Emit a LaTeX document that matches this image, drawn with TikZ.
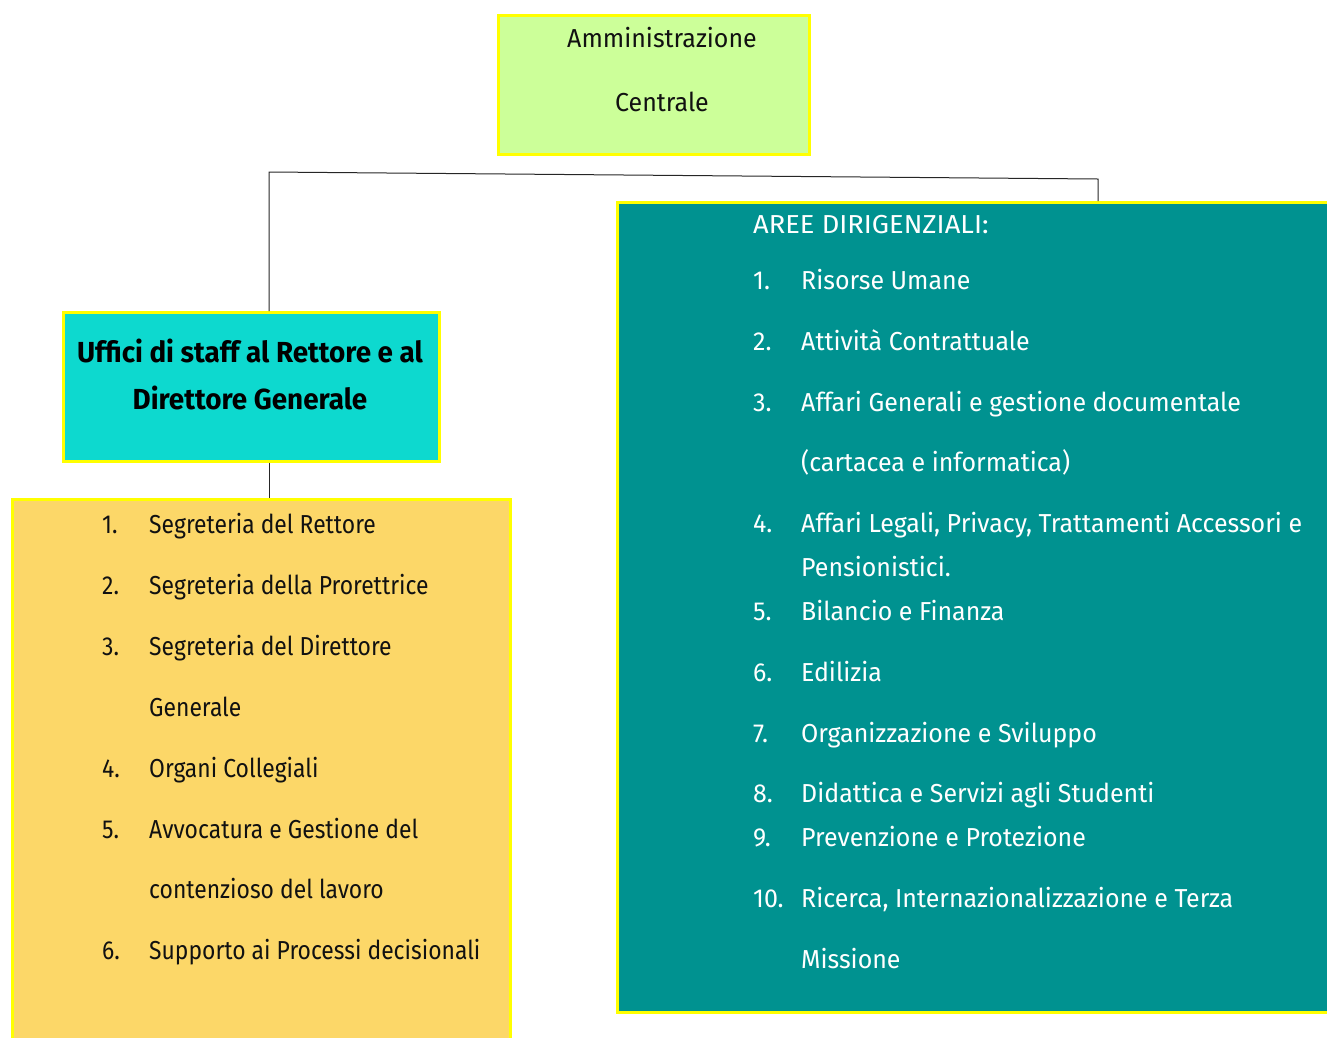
\documentclass[tikz,border=0pt]{standalone}
\usepackage{fontspec}
\setmainfont{Fira Sans}[FakeStretch=0.96]
\newfontfamily\yfont{Fira Sans}[FakeStretch=0.88]
\newfontfamily\hfont{Fira Sans}[FakeStretch=1.05]
\definecolor{topfill}{HTML}{CCFF99}
\definecolor{staffill}{HTML}{0DD9CF}
\definecolor{yelfill}{HTML}{FCD768}
\definecolor{tealfill}{HTML}{009290}
\definecolor{bord}{HTML}{FFFF00}
\definecolor{txt}{HTML}{111111}
\begin{document}
\begin{tikzpicture}[x=1pt,y=-1pt,
  box/.style={draw=bord,line width=2.5pt,anchor=north west,inner sep=0pt},
  conn/.style={draw=black!85,line width=1pt},
  ttext/.style={font=\fontsize{26}{30}\selectfont,text=txt,inner sep=0pt},
  btext/.style={font=\fontsize{29}{30}\selectfont\bfseries,text=black,inner sep=0pt},
  ltext/.style={font=\fontsize{26}{30}\selectfont,inner sep=0pt,anchor=base west},
  ytext/.style={font=\fontsize{26}{30}\selectfont\yfont,inner sep=0pt,anchor=base west,text=txt},
]
\useasboundingbox (0,0) rectangle (1327,1037);
% boxes
\node[box,fill=topfill,minimum width=311pt,minimum height=139pt] (top) at (497,14) {};
\node[box,fill=staffill,minimum width=376pt,minimum height=149pt] (staff) at (62,311) {};
\node[box,fill=yelfill,minimum width=498pt,minimum height=560pt] (yel) at (11,498) {};
\node[box,fill=tealfill,minimum width=730pt,minimum height=810pt] (teal) at (616,201) {};
% connectors
\coordinate (c1) at (269,172);
\coordinate (c2) at (1098,179);
\draw[conn] (staff.north -| c1) -- (c1) -- (c2) -- (c2 |- teal.north);
\draw[conn] (staff.south -| c1) -- (c1 |- yel.north);
% top texts
\node[ttext] (t1) at (662,38) {Amministrazione};
\node[ttext] (t2) at (662,102) {Centrale};
% staff texts
\node[btext] (s1) at (250,351) {Uffici di staff al Rettore e al};
\node[btext] (s2) at (250,398) {Direttore Generale};
% yellow list
\begin{scope}[every node/.style={ytext}]
\node (yn1) at (102,533) {1.}; \node (y1) at (149,533) {Segreteria del Rettore};
\node (yn2) at (102,594) {2.}; \node (y2) at (149,594) {Segreteria della Prorettrice};
\node (yn3) at (102,655) {3.}; \node (y3) at (149,655) {Segreteria del Direttore};
\node (y3b) at (149,716) {Generale};
\node (yn4) at (102,777) {4.}; \node (y4) at (149,777) {Organi Collegiali};
\node (yn5) at (102,838) {5.}; \node (y5) at (149,838) {Avvocatura e Gestione del};
\node (y5b) at (149,898) {contenzioso del lavoro};
\node (yn6) at (102,959) {6.}; \node (y6) at (149,959) {Supporto ai Processi decisionali};
\end{scope}
% teal list
\begin{scope}[every node/.style={ltext,text=white}]
\node[font=\fontsize{26}{30}\selectfont\hfont] (th) at (753,233) {AREE DIRIGENZIALI:};
\node (tn1) at (753,289) {1.}; \node (a1) at (801,289) {Risorse Umane};
\node (tn2) at (753,350) {2.}; \node (a2) at (801,350) {Attività Contrattuale};
\node (tn3) at (753,411) {3.}; \node (a3) at (801,411) {Affari Generali e gestione documentale};
\node (a3b) at (801,471) {(cartacea e informatica)};
\node (tn4) at (753,532) {4.}; \node (a4) at (801,532) {Affari Legali, Privacy, Trattamenti Accessori e};
\node (a4b) at (801,576) {Pensionistici.};
\node (tn5) at (753,620) {5.}; \node (a5) at (801,620) {Bilancio e Finanza};
\node (tn6) at (753,681) {6.}; \node (a6) at (801,681) {Edilizia};
\node (tn7) at (753,742) {7.}; \node (a7) at (801,742) {Organizzazione e Sviluppo};
\node (tn8) at (753,802) {8.}; \node (a8) at (801,802) {Didattica e Servizi agli Studenti};
\node (tn9) at (753,846) {9.}; \node (a9) at (801,846) {Prevenzione e Protezione};
\node (tn10) at (753,907) {10.}; \node (a10) at (801,907) {Ricerca, Internazionalizzazione e Terza};
\node (a10b) at (801,968) {Missione};
\end{scope}
\end{tikzpicture}
\end{document}
